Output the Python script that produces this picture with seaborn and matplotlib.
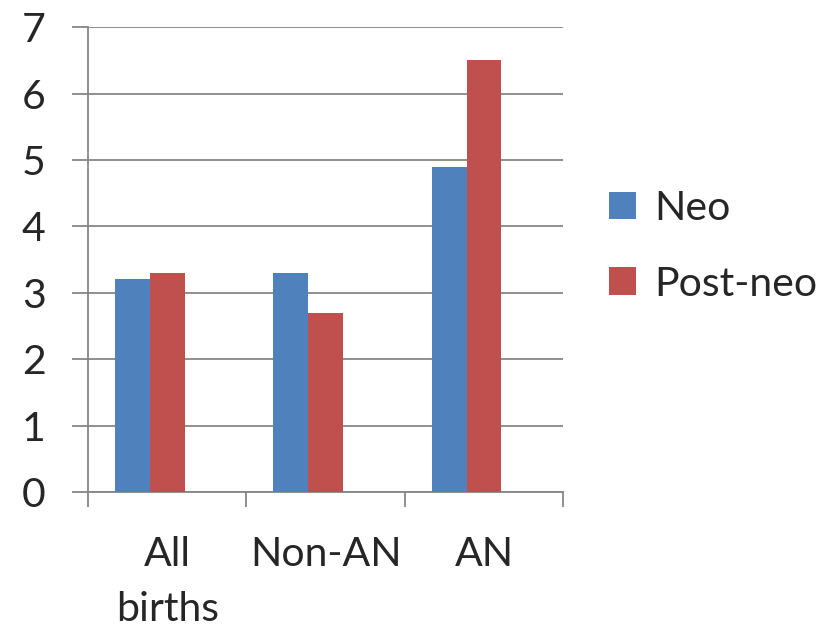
import matplotlib
matplotlib.use("Agg")
import matplotlib.pyplot as plt
from matplotlib.patches import Patch
from matplotlib.ticker import FixedLocator
import pandas as pd
import seaborn as sns

categories = ["All\nbirths", "Non-AN", "AN"]
neo = [3.2, 3.3, 4.9]
post_neo = [3.3, 2.7, 6.5]
series_names = ["Neo", "Post-neo"]
y_ticks = [0, 1, 2, 3, 4, 5, 6, 7]

colors = ["#4F81BD", "#C0504D", "#FFFFFF"]
grid_color = "#868686"

sns.set_theme(style="white")
plt.rcParams["font.family"] = ["Lato", "DejaVu Sans"]

# third (empty) series keeps the Excel-style slot spacing
df = pd.DataFrame({
    "category": categories * 3,
    "series": [series_names[0]] * 3 + [series_names[1]] * 3 + [" "] * 3,
    "value": neo + post_neo + [0, 0, 0],
})

fig = plt.figure(figsize=(8.38, 6.31), dpi=100)
ax = fig.add_axes([0.105, 0.2203, 0.567, 0.7367])

sns.barplot(data=df, x="category", y="value", hue="series",
            order=categories, hue_order=series_names + [" "],
            palette=colors, saturation=1, width=0.66, gap=0, linewidth=0,
            errorbar=None, legend=False, ax=ax, zorder=3)

ax.set_xlim(-0.5, 2.5)
ax.set_ylim(0, 7)
ax.set_yticks(y_ticks)
ax.set_xlabel("")
ax.set_ylabel("")

ax.yaxis.grid(True, color=grid_color, linewidth=1.3, zorder=0)
ax.set_axisbelow(True)
for side in ["top", "right"]:
    ax.spines[side].set_visible(False)
for side in ["left", "bottom"]:
    ax.spines[side].set_color(grid_color)
    ax.spines[side].set_linewidth(1.3)

fs = 29.5
ax.tick_params(axis="y", which="major", direction="out", length=11.5,
               width=1.3, color=grid_color, labelsize=fs, pad=19, left=True)
ax.tick_params(axis="x", which="major", length=0, labelsize=fs, pad=32)
ax.xaxis.set_minor_locator(FixedLocator([-0.5, 0.5, 1.5, 2.5]))
ax.tick_params(axis="x", which="minor", direction="out", length=11,
               width=1.3, color=grid_color, bottom=True)
for lbl in ax.get_xticklabels():
    lbl.set_linespacing(1.6)
    lbl.set_verticalalignment("top")

handles = [Patch(facecolor=colors[i], edgecolor="none", label=series_names[i])
           for i in range(2)]
fig.legend(handles=handles, loc="center left", bbox_to_anchor=(0.683, 0.61),
           frameon=False, fontsize=fs, handlelength=0.65, handleheight=0.65,
           handletextpad=0.45, labelspacing=0.95)

fig.savefig("out.png", dpi=100)
